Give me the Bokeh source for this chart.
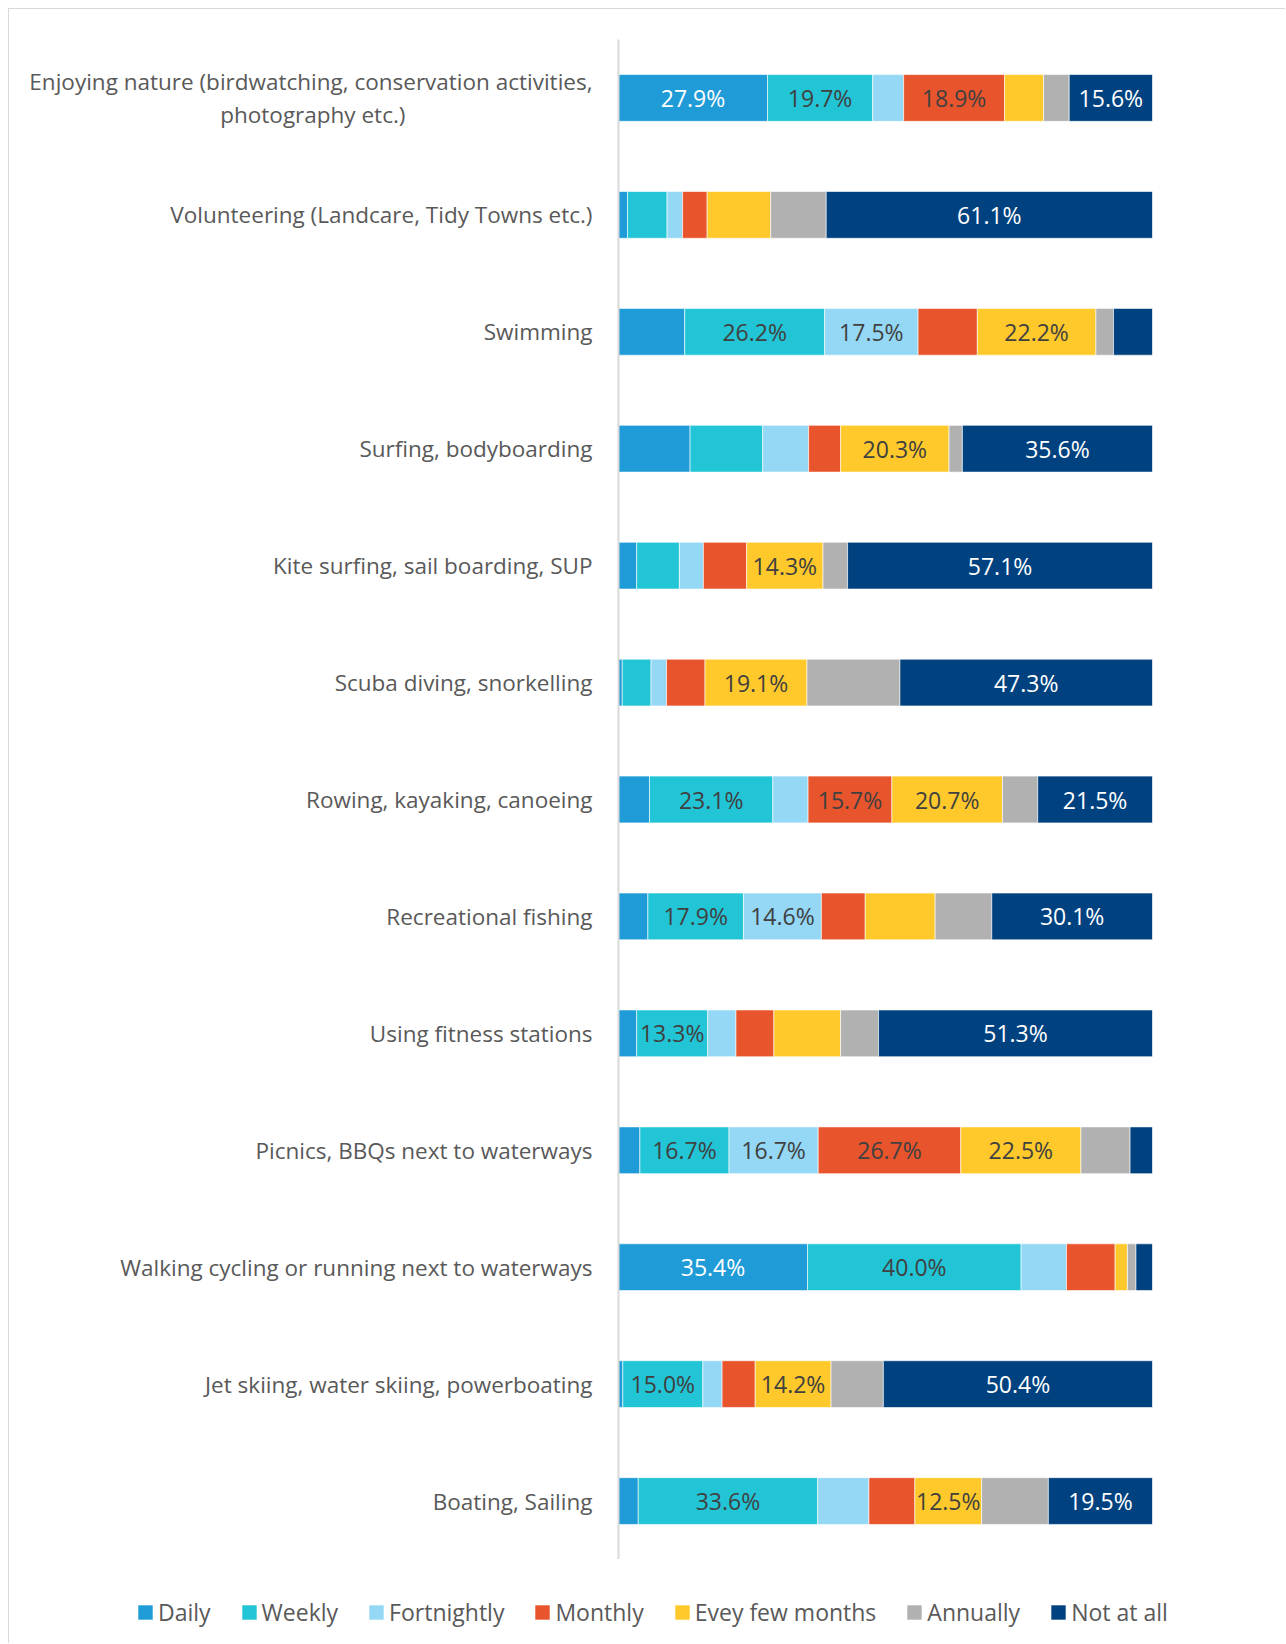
from bokeh.plotting import figure
from bokeh.layouts import column
from bokeh.models import Range1d, FactorRange, ColumnDataSource, Legend, LegendItem
from bokeh.embed import file_html
from bokeh.resources import INLINE
from bokeh.core.properties import value

NB = "\u00a0"
categories = [
    "Enjoying nature (birdwatching, conservation activities,\nphotography etc.)" + NB * 32,
    "Volunteering (Landcare, Tidy Towns etc.)",
    "Swimming",
    "Surfing, bodyboarding",
    "Kite surfing, sail boarding, SUP",
    "Scuba diving, snorkelling",
    "Rowing, kayaking, canoeing",
    "Recreational fishing",
    "Using fitness stations",
    "Picnics, BBQs next to waterways",
    "Walking cycling or running next to waterways",
    "Jet skiing, water skiing, powerboating",
    "Boating, Sailing",
]

series_names = ["Daily", "Weekly", "Fortnightly", "Monthly", "Evey few months", "Annually", "Not at all"]

daily       = [27.9, 1.7, 12.4, 13.4, 3.4, 0.7, 5.8, 5.5, 3.4, 4.0, 35.4, 0.8, 3.7]
weekly      = [19.7, 7.4, 26.2, 13.6, 8.0, 5.4, 23.1, 17.9, 13.3, 16.7, 40.0, 15.0, 33.6]
fortnightly = [5.8, 2.9, 17.5, 8.6, 4.5, 2.9, 6.6, 14.6, 5.3, 16.7, 8.5, 3.6, 9.6]
monthly     = [18.9, 4.6, 11.1, 6.0, 8.1, 7.2, 15.7, 8.2, 7.1, 26.7, 9.1, 6.2, 8.6]
few_months  = [7.3, 11.9, 22.2, 20.3, 14.3, 19.1, 20.7, 13.1, 12.5, 22.5, 2.3, 14.2, 12.5]
annually    = [4.8, 10.4, 3.3, 2.5, 4.6, 17.4, 6.6, 10.6, 7.1, 9.2, 1.6, 9.8, 12.5]
not_at_all  = [15.6, 61.1, 7.3, 35.6, 57.1, 47.3, 21.5, 30.1, 51.3, 4.2, 3.1, 50.4, 19.5]

# which segments carry a data label (1 = shown)
show_daily       = [1, 0, 0, 0, 0, 0, 0, 0, 0, 0, 1, 0, 0]
show_weekly      = [1, 0, 1, 0, 0, 0, 1, 1, 1, 1, 1, 1, 1]
show_fortnightly = [0, 0, 1, 0, 0, 0, 0, 1, 0, 1, 0, 0, 0]
show_monthly     = [1, 0, 0, 0, 0, 0, 1, 0, 0, 1, 0, 0, 0]
show_few_months  = [0, 0, 1, 1, 1, 1, 1, 0, 0, 1, 0, 1, 1]
show_annually    = [0, 0, 0, 0, 0, 0, 0, 0, 0, 0, 0, 0, 0]
show_not_at_all  = [1, 1, 0, 1, 1, 1, 1, 1, 1, 0, 0, 1, 1]

colors = ["#1F9BD7", "#22C5D6", "#94D8F5", "#E8542C", "#FFC92B", "#B1B1B1", "#00427F"]
label_colors = ["#FFFFFF", "#404040", "#404040", "#404040", "#404040", "#404040", "#FFFFFF"]

FONT = "Open Sans"
FS_CAT = "22.5px"
FS_LBL = "23px"
FS_LEG = "23px"

series = [daily, weekly, fortnightly, monthly, few_months, annually, not_at_all]
shows = [show_daily, show_weekly, show_fortnightly, show_monthly, show_few_months, show_annually, show_not_at_all]

data = {"cat": categories}
for name, vals in zip(series_names, series):
    data[name] = vals
src = ColumnDataSource(data)

W = 1276
H_MAIN, H_LEG = 1550, 84

p = figure(width=W, height=H_MAIN,
           y_range=FactorRange(factors=list(reversed(categories))),
           x_range=Range1d(0, 100),
           output_backend="svg", toolbar_location=None,
           min_border_left=609, min_border_right=133,
           min_border_top=30, min_border_bottom=0)
p.frame_align = False
p.outline_line_color = None
p.xaxis.visible = False
p.xgrid.visible = False
p.ygrid.visible = False
p.y_range.range_padding = 0
p.y_range.factor_padding = 0

yax = p.yaxis[0]
yax.axis_line_color = "#D9D9D9"
yax.axis_line_width = 2
yax.major_tick_line_color = None
yax.minor_tick_line_color = None
yax.major_label_standoff = 20
yax.major_label_text_font = FONT
yax.major_label_text_font_size = FS_CAT
yax.major_label_text_color = "#595959"
yax.major_label_text_line_height = 1.04

p.hbar_stack(series_names, y="cat", height=0.4, color=colors,
             source=src, line_color="white", line_width=0.6)

# data labels
lx, ly, lt, lc = [], [], [], []
for si, (vals, sh) in enumerate(zip(series, shows)):
    for ci, cat in enumerate(categories):
        left = sum(series[k][ci] for k in range(si))
        if sh[ci]:
            lx.append(left + vals[ci] / 2.0)
            ly.append(cat)
            lt.append(f"{vals[ci]:.1f}%")
            lc.append(label_colors[si])
lsrc = ColumnDataSource(dict(x=lx, y=ly, t=lt, c=lc))
p.text(x="x", y="y", text="t", text_color="c", source=lsrc,
       text_align="center", text_baseline="middle",
       text_font=value(FONT), text_font_size=FS_LBL)

# legend strip below the chart
leg = figure(width=W, height=H_LEG,
             y_range=FactorRange(factors=list(reversed(categories))),
             x_range=Range1d(0, 100),
             output_backend="svg", toolbar_location=None,
             min_border=0)
leg.frame_align = False
leg.axis.visible = False
leg.grid.visible = False
leg.outline_line_color = None
leg_renderers = leg.hbar_stack(series_names, y="cat", height=0.4, color=colors,
                               source=src, line_color=None)
for r in leg_renderers:
    r.visible = False

legend = Legend(items=[LegendItem(label=n, renderers=[r]) for n, r in zip(series_names, leg_renderers)],
                location=(127, 15),
                orientation="horizontal",
                border_line_color=None, background_fill_alpha=0,
                inactive_fill_alpha=0,
                padding=0, margin=0, spacing=29,
                glyph_width=18, glyph_height=18, label_standoff=4,
                label_height=24,
                label_text_font=FONT, label_text_font_size=FS_LEG,
                label_text_color="#595959")
leg.add_layout(legend, "center")

layout = column(p, leg, spacing=0)
layout.styles = {"margin-left": "8px", "margin-top": "8px",
                 "border-top": "1px solid #D9D9D9", "border-left": "1px solid #D9D9D9"}

open("out.html", "w").write(file_html(layout, INLINE))
